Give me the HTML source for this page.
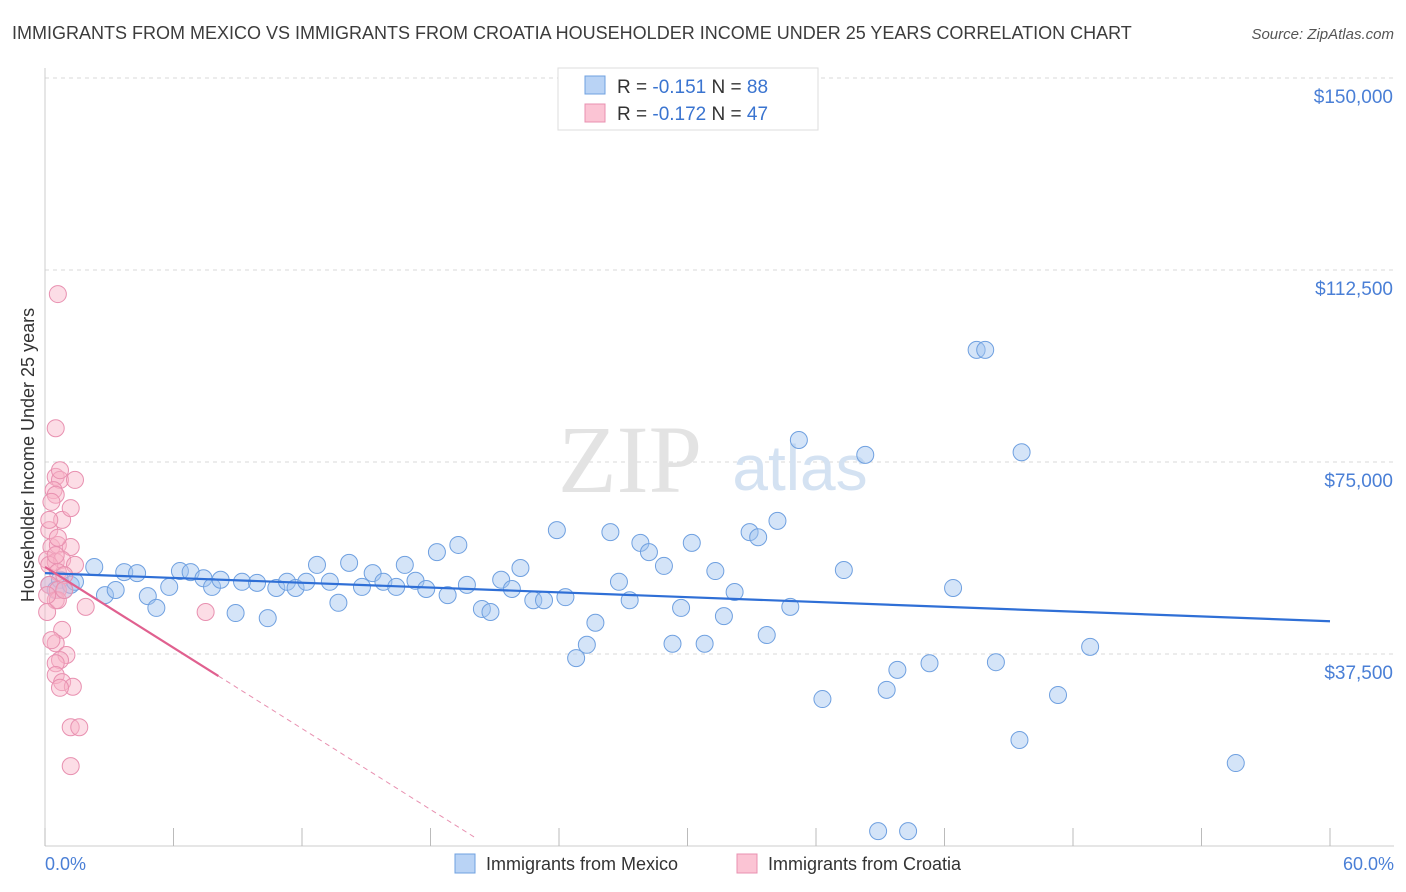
<!DOCTYPE html>
<html><head><meta charset="utf-8">
<style>
body{margin:0;background:#fff;font-family:"Liberation Sans",sans-serif;}
#wrap{position:relative;width:1406px;height:892px;overflow:hidden;}
</style></head>
<body>
<div id="wrap">
<svg id="chart" width="1406" height="892">
  <text x="12" y="39" font-size="18" fill="#3c3c3c">IMMIGRANTS FROM MEXICO VS IMMIGRANTS FROM CROATIA HOUSEHOLDER INCOME UNDER 25 YEARS CORRELATION CHART</text>
  <text x="1394" y="39" font-size="15" fill="#555" font-style="italic" text-anchor="end">Source: ZipAtlas.com</text>
  <g id="grid"></g>
  <text x="630" y="492" font-size="96" fill="#e3e3e3" font-family="Liberation Serif,serif" text-anchor="middle">ZIP</text>
  <text x="800" y="490" font-size="64" fill="#d4e2f2" text-anchor="middle">atlas</text>
  <g id="marks"></g>
  <text x="34" y="455" font-size="18" fill="#333" text-anchor="middle" transform="rotate(-90 34 455)">Householder Income Under 25 years</text>
  <text x="45" y="870" font-size="18" fill="#4a7fd6">0.0%</text>
  <text x="1394" y="870" font-size="18" fill="#4a7fd6" text-anchor="end">60.0%</text>
  <g>
    <rect x="558" y="68" width="260" height="62" fill="#fff" stroke="#ddd"/>
    <rect x="585" y="76" width="20" height="18" fill="#b9d3f5" stroke="#6fa0e0"/>
    <rect x="585" y="104" width="20" height="18" fill="#fbc4d4" stroke="#e890b0"/>
    <text x="617" y="93" font-size="19" fill="#333">R = <tspan fill="#3a74d0">-0.151</tspan>   N = <tspan fill="#3a74d0">88</tspan></text>
    <text x="617" y="120" font-size="19" fill="#333">R = <tspan fill="#3a74d0">-0.172</tspan>   N = <tspan fill="#3a74d0">47</tspan></text>
  </g>
  <g>
    <rect x="455" y="854" width="20" height="19" fill="#b9d3f5" stroke="#6fa0e0"/>
    <text x="486" y="870" font-size="18" fill="#333">Immigrants from Mexico</text>
    <rect x="737" y="854" width="20" height="19" fill="#fbc4d4" stroke="#e890b0"/>
    <text x="768" y="870" font-size="18" fill="#333">Immigrants from Croatia</text>
  </g>
</svg>
</div>
<script>
const yTicks=[37500,75000,112500,150000];
const yTickLabels=["$37,500","$75,000","$112,500","$150,000"];
const xTicks=[0,6,12,18,24,30,36,42,48,54,60];
const mexicoX=[0.2,0.5,0.7,0.9,1.2,1.4,2.3,2.8,3.3,3.7,4.3,4.8,5.2,5.8,6.3,6.8,7.4,7.8,8.2,8.9,9.2,9.9,10.4,10.8,11.3,11.7,12.2,12.7,13.3,13.7,14.2,14.8,15.3,15.8,16.4,16.8,17.3,17.8,18.3,18.8,19.3,19.7,20.4,20.8,21.3,21.8,22.2,22.8,23.3,23.9,24.3,24.8,25.3,25.7,26.4,26.8,27.3,27.8,28.2,28.9,29.3,29.7,30.2,30.8,31.3,31.7,32.2,32.9,33.3,33.7,34.2,34.8,35.2,36.3,37.3,38.3,38.9,39.3,39.8,40.3,41.3,42.4,43.5,43.9,44.4,45.6,45.5,47.3,48.8,55.6];
const mexicoY=[51.0,50.0,52.0,50.0,51.0,51.6,54.5,49.0,50.0,53.5,53.3,48.8,46.5,50.6,53.7,53.5,52.3,50.6,52.0,45.5,51.6,51.4,44.5,50.4,51.6,50.4,51.6,54.9,51.6,47.5,55.3,50.6,53.3,51.6,50.6,54.9,51.8,50.2,57.4,49.0,58.8,51.0,46.3,45.7,52.0,50.2,54.3,48.0,48.0,61.7,48.6,36.7,39.3,43.6,61.3,51.6,48.0,59.2,57.4,54.7,39.5,46.5,59.2,39.5,53.7,44.9,49.6,61.3,60.3,41.2,63.5,46.7,79.3,28.7,53.9,76.4,2.9,30.5,34.4,2.9,35.7,50.4,96.9,96.9,35.9,76.9,20.7,29.5,38.9,16.2];
const croatiaX=[0.6,0.5,0.5,0.7,1.4,0.4,0.5,0.8,1.2,0.2,0.3,0.6,1.2,0.1,0.5,0.8,1.4,0.2,0.6,0.9,0.2,0.6,0.5,1.9,7.5,0.1,0.8,0.5,1.0,0.7,0.5,0.5,0.8,1.3,0.7,1.2,1.6,1.2,0.2,0.3,0.6,0.9,0.1,0.5,0.6,0.3,0.7];
const croatiaY=[107.8,81.6,72.1,71.5,71.5,69.5,68.6,63.7,66.0,61.7,58.4,58.8,58.4,55.9,55.5,55.9,54.9,54.9,53.5,52.9,51.0,50.0,48.0,46.7,45.7,45.7,42.2,39.6,37.3,36.3,35.7,33.4,32.0,31.1,30.9,23.2,23.2,15.6,63.7,67.2,48.0,50.0,49.0,56.8,60.2,40.2,73.4];
const mexicoTrend=[53.3,43.9];      // value at 0% and 60%
const croatiaTrend=[54.5,33.2,8.1,1.6,20.1]; // start, solid end value, solid end x, dashed end value, dashed end x

const X=v=>45+v*(1285/60);
const Y=v=>846-v*1000*192/37500;
const NS="http://www.w3.org/2000/svg";
const grid=document.getElementById('grid'), marks=document.getElementById('marks');
function mk(tag,attrs,parent){const e=document.createElementNS(NS,tag);for(const k in attrs)e.setAttribute(k,attrs[k]);parent.appendChild(e);return e;}
yTicks.forEach((t,i)=>{
  const y=846-t*192/37500;
  const l=mk('line',{x1:45,x2:1394,y1:y,y2:y,stroke:'#d8d8d8','stroke-dasharray':'4,4'},grid);
  
  
  const tx=mk('text',{x:1393,y:y+25,'font-size':19,fill:'#4a7fd6','text-anchor':'end'},grid);
  tx.textContent=yTickLabels[i];
  
  
});
const ax=mk('line',{x1:45,x2:1394,y1:846,y2:846,stroke:'#ccc'},grid);


const ay=mk('line',{x1:45,x2:45,y1:68,y2:846,stroke:'#ccc'},grid);


xTicks.forEach(t=>{
  const l=mk('line',{x1:X(t),x2:X(t),y1:828,y2:846,stroke:'#bbb'},grid);
  
  
});
mexicoX.forEach((x,i)=>{
  const c=mk('circle',{cx:X(x),cy:Y(mexicoY[i]),r:8.5,fill:'rgba(160,196,240,0.45)',stroke:'#6fa0e0','stroke-width':1},marks);
  
  
});
croatiaX.forEach((x,i)=>{
  const c=mk('circle',{cx:X(x),cy:Y(croatiaY[i]),r:8.5,fill:'rgba(248,180,200,0.45)',stroke:'#e890b0','stroke-width':1},marks);
  
  
});
const bt=mk('line',{x1:X(0),y1:Y(mexicoTrend[0]),x2:X(60),y2:Y(mexicoTrend[1]),stroke:'#2f6fd6','stroke-width':2.2},marks);


const pt=mk('line',{x1:X(0),y1:Y(croatiaTrend[0]),x2:X(croatiaTrend[2]),y2:Y(croatiaTrend[1]),stroke:'#e0608f','stroke-width':2.2},marks);


const pd=mk('line',{x1:X(croatiaTrend[2]),y1:Y(croatiaTrend[1]),x2:X(croatiaTrend[4]),y2:Y(croatiaTrend[3]),stroke:'#e890b0','stroke-width':1,'stroke-dasharray':'5,4'},marks);


</script>
</body></html>
